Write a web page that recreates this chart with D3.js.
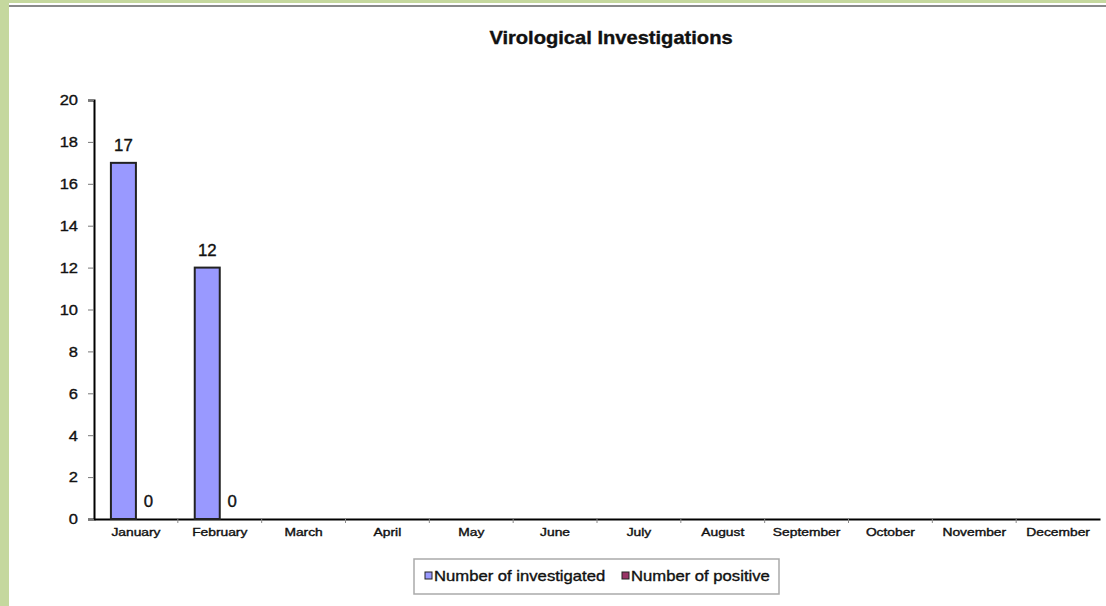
<!DOCTYPE html>
<html>
<head>
<meta charset="utf-8">
<script src="https://cdn.jsdelivr.net/npm/d3@7"></script>
<style>
  body { margin: 0; background: #fff; }
  svg { display: block; font-family: "Liberation Sans", Arial, sans-serif; }
  text { stroke: #111; stroke-width: 0.35px; }
</style>
</head>
<body>
<script>
var months = ["January", "February", "March", "April", "May", "June", "July",
    "August", "September", "October", "November", "December"];
var series = ["Number of investigated", "Number of positive"];
var investigated = [17, 12, null, null, null, null, null, null, null, null, null, null];
var positive = [0, 0, null, null, null, null, null, null, null, null, null, null];
var yTicks = [0, 2, 4, 6, 8, 10, 12, 14, 16, 18, 20];
var colors = ["#9999ff", "#993366"];

var width = 1106, height = 606;

var svg = d3.select("body")
    .append("svg")
    .attr("width", width)
    .attr("height", height);

// page frame: green strip on the left, line on top
svg.append("rect").attr("x", 0).attr("y", 0).attr("width", 9).attr("height", height).attr("fill", "#c5d89e");
svg.append("rect").attr("x", 0).attr("y", 0).attr("width", width).attr("height", 3).attr("fill", "#c5d89e");
svg.append("rect").attr("x", 9).attr("y", 5).attr("width", width - 9).attr("height", 2).attr("fill", "#8a8a8a");

// text in the picture is a bit stretched sideways
svg.append("text")
    .attr("transform", "translate(611,44) scale(1.15,1)")
    .attr("text-anchor", "middle")
    .style("font-size", "17.5px")
    .style("font-weight", "bold")
    .attr("fill", "#111")
    .text("Virological Investigations");

var x = d3.scaleBand()
    .domain(months)
    .range([94, 1100])
    .paddingInner(0)
    .paddingOuter(0);

var xInner = d3.scaleBand()
    .domain(series)
    .range([0, x.bandwidth()])
    .paddingOuter(0.676)
    .paddingInner(0);

var y = d3.scaleLinear()
    .domain([0, 20])
    .range([519, 100]);

// y axis
var yAxis = svg.append("g")
    .attr("transform", "translate(94,0)")
    .call(d3.axisLeft(y).tickValues(yTicks).tickSize(6).tickPadding(10));
yAxis.select(".domain").attr("stroke", "#000").attr("stroke-width", 2);
yAxis.selectAll(".tick line").attr("stroke", "#777");
yAxis.selectAll("text")
    .attr("x", 0)
    .attr("transform", "translate(-16,0) scale(1.1,1)")
    .style("font-size", "15px")
    .attr("fill", "#111");

// x axis
var xAxis = svg.append("g")
    .attr("transform", "translate(0,519)")
    .call(d3.axisBottom(x).tickSize(0).tickPadding(10));
xAxis.select(".domain").attr("stroke", "#000").attr("stroke-width", 2);
xAxis.selectAll("text")
    .attr("transform", "scale(1.38,1)")
    .style("font-size", "10px")
    .attr("fill", "#111");

// small tick marks at band edges
svg.append("g")
    .selectAll("line")
    .data(months.slice(1))
    .enter().append("line")
    .attr("x1", function (d) { return x(d); })
    .attr("x2", function (d) { return x(d); })
    .attr("y1", 519)
    .attr("y2", 523)
    .attr("stroke", "#888");

var rows = months.map(function (m, i) {
    return { month: m, values: [investigated[i], positive[i]] };
});

function cells(d) {
    return d.values.map(function (v, i) { return { key: series[i], value: v, i: i }; })
        .filter(function (e) { return e.value !== null; });
}

var groups = svg.append("g")
    .selectAll("g")
    .data(rows)
    .enter().append("g")
    .attr("transform", function (d) { return "translate(" + x(d.month) + ",0)"; });

groups.selectAll("rect")
    .data(cells)
    .enter().append("rect")
    .attr("x", function (d) { return xInner(d.key); })
    .attr("y", function (d) { return y(d.value); })
    .attr("width", xInner.bandwidth())
    .attr("height", function (d) { return y(0) - y(d.value); })
    .attr("fill", function (d) { return colors[d.i]; })
    .attr("stroke", "#222")
    .attr("stroke-width", 2);

groups.selectAll("text.val")
    .data(cells)
    .enter().append("text")
    .attr("class", "val")
    .attr("transform", function (d) {
        return "translate(" + (xInner(d.key) + xInner.bandwidth() / 2) + "," + (y(d.value) - 12) + ") scale(1.05,1)";
    })
    .attr("text-anchor", "middle")
    .style("font-size", "16px")
    .attr("fill", "#111")
    .text(function (d) { return d.value; });

// legend
var legend = svg.append("g").attr("transform", "translate(414,559)");
legend.append("rect")
    .attr("width", 365).attr("height", 35)
    .attr("fill", "#fff").attr("stroke", "#aaa").attr("stroke-width", 1.5);

var legendX = [11, 208];
series.forEach(function (s, i) {
    var item = legend.append("g").attr("transform", "translate(" + legendX[i] + ",0)");
    item.append("rect")
        .attr("x", 0).attr("y", 13)
        .attr("width", 7).attr("height", 7)
        .attr("fill", colors[i]).attr("stroke", "#222");
    item.append("text")
        .attr("transform", "translate(9,22) scale(1.19,1)")
        .style("font-size", "14px")
        .attr("fill", "#111")
        .text(s);
});
</script>
</body>
</html>
